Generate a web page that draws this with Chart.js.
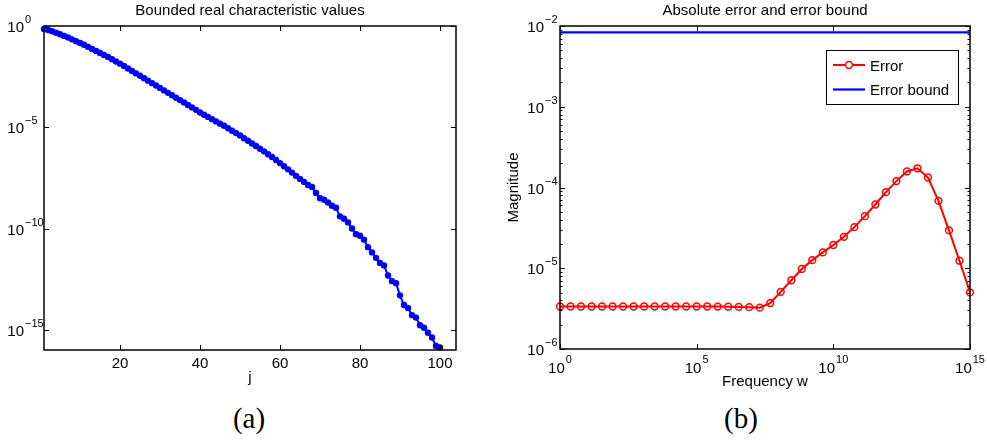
<!DOCTYPE html>
<html>
<head>
<meta charset="utf-8">
<script src="https://cdn.jsdelivr.net/npm/chart.js@4/dist/chart.umd.min.js"></script>
<style>
	body { margin: 0; background: #fff; width: 987px; height: 442px; position: relative; overflow: hidden; }
	.panel { position: absolute; top: 0; height: 400px; }
	#panel-a { left: 0; width: 490px; }
	#panel-b { left: 490px; width: 497px; }
	.caption { position: absolute; top: 404px; font: 29px/29px "Liberation Serif", "DejaVu Serif", serif; color: #000; transform: translateX(-50%); white-space: nowrap; }
</style>
</head>
<body>
<div class="panel" id="panel-a"><canvas id="chart-a"></canvas></div>
<div class="panel" id="panel-b"><canvas id="chart-b"></canvas></div>
<div class="caption" style="left:249px">(a)</div>
<div class="caption" style="left:741px">(b)</div>
<script>
// (a) bounded real characteristic values
const jValues = [
	1, 2, 3, 4, 5, 6, 7, 8, 9, 10, 11, 12, 13, 14, 15, 16, 17, 18, 19, 20,
	21, 22, 23, 24, 25, 26, 27, 28, 29, 30, 31, 32, 33, 34, 35, 36, 37, 38, 39, 40,
	41, 42, 43, 44, 45, 46, 47, 48, 49, 50, 51, 52, 53, 54, 55, 56, 57, 58, 59, 60,
	61, 62, 63, 64, 65, 66, 67, 68, 69, 70, 71, 72, 73, 74, 75, 76, 77, 78, 79, 80,
	81, 82, 83, 84, 85, 86, 87, 88, 89, 90, 91, 92, 93, 94, 95, 96, 97, 98, 99, 100
];
const charValues = [
	7.08e-1, 6.31e-1, 5.50e-1, 4.68e-1, 3.89e-1, 3.24e-1, 2.69e-1, 2.19e-1, 1.78e-1, 1.45e-1,
	1.18e-1, 9.33e-2, 7.41e-2, 5.89e-2, 4.68e-2, 3.72e-2, 2.95e-2, 2.29e-2, 1.78e-2, 1.38e-2,
	1.05e-2, 7.94e-3, 6.03e-3, 4.57e-3, 3.47e-3, 2.63e-3, 2.00e-3, 1.51e-3, 1.15e-3, 8.71e-4,
	6.61e-4, 5.01e-4, 3.80e-4, 2.88e-4, 2.19e-4, 1.66e-4, 1.26e-4, 9.55e-5, 7.24e-5, 5.37e-5,
	4.17e-5, 3.24e-5, 2.51e-5, 1.95e-5, 1.51e-5, 1.18e-5, 8.91e-6, 6.76e-6, 5.13e-6, 3.89e-6,
	2.88e-6, 2.14e-6, 1.58e-6, 1.18e-6, 8.71e-7, 6.46e-7, 4.68e-7, 3.39e-7, 2.40e-7, 1.70e-7,
	1.18e-7, 8.32e-8, 5.75e-8, 3.98e-8, 2.82e-8, 2.00e-8, 1.41e-8, 1.12e-8, 5.62e-9, 3.16e-9,
	2.63e-9, 1.91e-9, 1.32e-9, 1.05e-9, 3.98e-10, 3.02e-10, 2.00e-10, 1.00e-10, 5.25e-11, 4.37e-11,
	2.82e-11, 1.20e-11, 6.61e-12, 3.55e-12, 2.00e-12, 1.51e-12, 4.79e-13, 2.51e-13, 2.00e-13, 5.01e-14,
	1.66e-14, 1.20e-14, 5.25e-15, 3.98e-15, 1.66e-15, 1.26e-15, 7.08e-16, 4.17e-16, 1.58e-16, 1.32e-16
];
const jTicks = [20, 40, 60, 80, 100];
const charTicks = [1e-15, 1e-10, 1e-5, 1];

// (b) absolute error and error bound
const freqW = [
	1, 2.43, 5.87, 1.43e1, 3.45e1, 8.38e1, 2.03e2, 4.92e2, 1.19e3, 2.90e3,
	7.02e3, 1.70e4, 4.12e4, 1e5, 2.43e5, 5.87e5, 1.43e6, 3.45e6, 8.38e6, 2.03e7,
	4.92e7, 1.19e8, 2.90e8, 7.02e8, 1.70e9, 4.12e9, 1e10, 2.43e10, 5.87e10, 1.43e11,
	3.45e11, 8.38e11, 2.03e12, 4.92e12, 1.19e13, 2.90e13, 7.02e13, 1.70e14, 4.12e14, 1e15
];
const errorVals = [
	3.36e-6, 3.36e-6, 3.36e-6, 3.36e-6, 3.36e-6, 3.36e-6, 3.36e-6, 3.36e-6, 3.36e-6, 3.36e-6,
	3.36e-6, 3.36e-6, 3.36e-6, 3.36e-6, 3.36e-6, 3.35e-6, 3.34e-6, 3.32e-6, 3.30e-6, 3.25e-6,
	3.70e-6, 5.10e-6, 7.10e-6, 9.80e-6, 1.26e-5, 1.57e-5, 1.94e-5, 2.45e-5, 3.23e-5, 4.42e-5,
	6.16e-5, 8.76e-5, 1.20e-4, 1.58e-4, 1.73e-4, 1.33e-4, 6.84e-5, 2.94e-5, 1.24e-5, 5.02e-6
];
const boundW = [1, 1e15];
const boundVals = [8.35e-3, 8.35e-3];
const freqTicks = [1, 1e5, 1e10, 1e15];
const magTicks = [1e-6, 1e-5, 1e-4, 1e-3, 1e-2];

const FONT = '"Liberation Sans", Arial, Helvetica, sans-serif';

function drawPow(ctx, v, x, yBase, yExp, align) {
	const exp = Math.round(Math.log10(v));
	const expText = exp < 0 ? '\u2212' + (-exp) : String(exp);
	ctx.font = '15px ' + FONT;
	const wb = ctx.measureText('10').width;
	ctx.font = '11px ' + FONT;
	const we = ctx.measureText(expText).width;
	let bx = align === 'right' ? x - wb : x - (wb + 1 + we) / 2;
	ctx.textAlign = 'left';
	ctx.textBaseline = 'alphabetic';
	ctx.font = '15px ' + FONT;
	ctx.fillText('10', bx, yBase);
	ctx.font = '11px ' + FONT;
	ctx.fillText(expText, bx + wb + 1, yExp);
}

// matlab-like axes box, inward ticks, power labels, title, inline legend
const matlabAxes = {
	id: 'matlabAxes',
	afterDraw(chart, args, opts) {
		const { ctx, chartArea: { left, right, top, bottom } } = chart;
		const xs = chart.scales.x, ys = chart.scales.y;
		ctx.save();
		ctx.fillStyle = '#000';
		ctx.strokeStyle = '#000';

		// tick marks
		ctx.lineWidth = 1;
		ctx.beginPath();
		xs.ticks.forEach((t) => {
			const px = Math.round(xs.getPixelForValue(t.value)) + 0.5;
			ctx.moveTo(px, bottom); ctx.lineTo(px, bottom - 5);
			ctx.moveTo(px, top); ctx.lineTo(px, top + 5);
		});
		ys.ticks.forEach((t) => {
			const py = Math.round(ys.getPixelForValue(t.value)) + 0.5;
			ctx.moveTo(left, py); ctx.lineTo(left + 5, py);
			ctx.moveTo(right, py); ctx.lineTo(right - 5, py);
		});
		if (opts.minorY) {
			ys.ticks.slice(0, -1).forEach((t) => {
				for (let m = 2; m <= 9; m++) {
					const py = Math.round(ys.getPixelForValue(t.value * m)) + 0.5;
					ctx.moveTo(left, py); ctx.lineTo(left + 2.5, py);
					ctx.moveTo(right, py); ctx.lineTo(right - 2.5, py);
				}
			});
		}
		ctx.stroke();

		// box
		ctx.lineWidth = 1.5;
		ctx.strokeRect(left, top, right - left, bottom - top);

		// y labels
		ys.ticks.forEach((t) => {
			const py = ys.getPixelForValue(t.value);
			drawPow(ctx, t.value, left - opts.yGap, py + 6, py - 3, 'right');
		});

		// x labels
		xs.ticks.forEach((t) => {
			const px = xs.getPixelForValue(t.value);
			if (opts.xPow) {
				drawPow(ctx, t.value, px, bottom + 24, bottom + 13.7, 'center');
			} else {
				ctx.font = '15px ' + FONT;
				ctx.textAlign = 'center';
				ctx.textBaseline = 'alphabetic';
				ctx.fillText(String(t.value), px, bottom + 18.3);
			}
		});

		// title
		ctx.font = '15px ' + FONT;
		ctx.textAlign = 'center';
		ctx.textBaseline = 'alphabetic';
		ctx.fillText(opts.title, (left + right) / 2, top - 11.5);

		// legend
		if (opts.legend) {
			const bx = right - 144, by = top + 24, bw = 132, bh = 54;
			ctx.fillStyle = '#fff';
			ctx.fillRect(bx, by, bw, bh);
			ctx.lineWidth = 1;
			ctx.strokeStyle = '#000';
			ctx.strokeRect(bx + 0.5, by + 0.5, bw, bh);
			chart.data.datasets.forEach((ds, i) => {
				const cy = by + 15 + i * 24.5;
				ctx.strokeStyle = ds.borderColor;
				ctx.lineWidth = ds.borderWidth;
				ctx.beginPath();
				ctx.moveTo(bx + 7, cy); ctx.lineTo(bx + 39, cy);
				ctx.stroke();
				if (ds.pointRadius > 0) {
					ctx.lineWidth = ds.pointBorderWidth;
					ctx.strokeStyle = ds.pointBorderColor;
					ctx.fillStyle = '#fff';
					ctx.beginPath();
					ctx.arc(bx + 23, cy, ds.pointRadius, 0, Math.PI * 2);
					ctx.fill();
					ctx.stroke();
				}
				ctx.fillStyle = '#000';
				ctx.font = '15px ' + FONT;
				ctx.textAlign = 'left';
				ctx.fillText(ds.label, bx + 44, cy + 5.6);
			});
		}
		ctx.restore();
	},
};

function axisTitle(text, padding) {
	return { display: true, text: text, color: '#000', font: { size: 15, family: FONT }, padding: padding };
}

new Chart(document.getElementById('chart-a'), {
	type: 'line',
	data: {
		labels: jValues,
		datasets: [
			{
				label: 'Characteristic values',
				data: charValues,
				borderColor: '#0000ff',
				backgroundColor: '#0000ff',
				borderWidth: 2,
				pointRadius: 3.2,
				pointBorderWidth: 0,
				pointBackgroundColor: '#0000ff',
				clip: false,
			},
		],
	},
	options: {
		responsive: true,
		maintainAspectRatio: false,
		animation: false,
		layout: { padding: { top: 26, right: 34, left: 0, bottom: 0 } },
		scales: {
			x: {
				type: 'linear',
				min: 1,
				max: 104,
				grid: { display: false },
				border: { display: false },
				ticks: { display: false },
				afterBuildTicks: (s) => { s.ticks = jTicks.map((v) => ({ value: v })); },
				afterFit: (s) => { s.height = 50; },
				title: axisTitle('j', { top: 0, bottom: 13 }),
			},
			y: {
				type: 'logarithmic',
				min: 1e-16,
				max: 1,
				grid: { display: false },
				border: { display: false },
				ticks: { display: false },
				afterBuildTicks: (s) => { s.ticks = charTicks.map((v) => ({ value: v })); },
				afterFit: (s) => { s.width = 44; },
			},
		},
		plugins: {
			legend: { display: false },
			tooltip: { enabled: false },
			matlabAxes: { title: 'Bounded real characteristic values', yGap: 20, xPow: false },
		},
	},
	plugins: [matlabAxes],
});

new Chart(document.getElementById('chart-b'), {
	type: 'line',
	data: {
		datasets: [
			{
				label: 'Error',
				data: freqW.map((w, i) => ({ x: w, y: errorVals[i] })),
				borderColor: '#ff0000',
				borderWidth: 2,
				pointRadius: 3.4,
				pointBorderWidth: 1.5,
				pointBorderColor: '#ff0000',
				pointBackgroundColor: 'rgba(255,255,255,0)',
				clip: false,
			},
			{
				label: 'Error bound',
				data: boundW.map((w, i) => ({ x: w, y: boundVals[i] })),
				borderColor: '#0000ff',
				borderWidth: 2.2,
				pointRadius: 0,
				clip: false,
			},
		],
	},
	options: {
		responsive: true,
		maintainAspectRatio: false,
		animation: false,
		layout: { padding: { top: 26, right: 17, left: 0, bottom: 0 } },
		scales: {
			x: {
				type: 'logarithmic',
				min: 1,
				max: 1e15,
				grid: { display: false },
				border: { display: false },
				ticks: { display: false },
				afterBuildTicks: (s) => { s.ticks = freqTicks.map((v) => ({ value: v })); },
				afterFit: (s) => { s.height = 51; },
				title: axisTitle('Frequency w', { top: 0, bottom: 9 }),
			},
			y: {
				type: 'logarithmic',
				min: 1e-6,
				max: 1e-2,
				grid: { display: false },
				border: { display: false },
				ticks: { display: false },
				afterBuildTicks: (s) => { s.ticks = magTicks.map((v) => ({ value: v })); },
				afterFit: (s) => { s.width = 70; },
				title: axisTitle('Magnitude', { top: 15, bottom: 0 }),
			},
		},
		plugins: {
			legend: { display: false },
			tooltip: { enabled: false },
			matlabAxes: { title: 'Absolute error and error bound', yGap: 16, xPow: true, minorY: true, legend: true },
		},
	},
	plugins: [matlabAxes],
});
</script>
</body>
</html>
